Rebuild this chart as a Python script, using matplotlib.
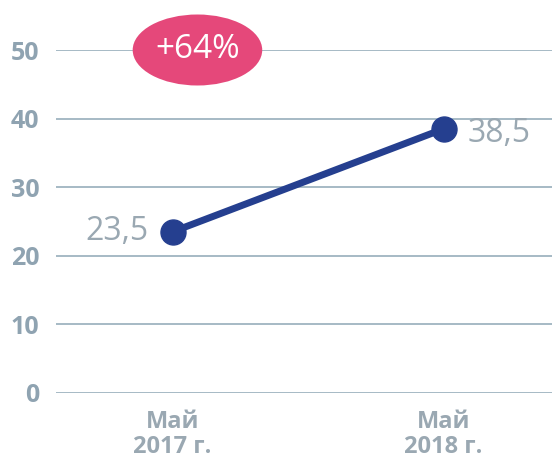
import matplotlib
matplotlib.use("Agg")
import matplotlib.pyplot as plt
from matplotlib.patches import Ellipse

# data
periods = ["Май\n2017 г.", "Май\n2018 г."]
values = [23.5, 38.5]
value_labels = ["23,5", "38,5"]
change_label = "+64%"
yticks = [0, 10, 20, 30, 40, 50]

plt.rcParams['font.family'] = ['Open Sans', 'DejaVu Sans']

fig = plt.figure(figsize=(5.52, 4.58), dpi=100)
ax = fig.add_axes([56 / 552, 1 - 393 / 458, 1 - 56 / 552, 343 / 458])

x = [0, 1]
ax.plot(x, values, color="#253F8F", linewidth=5, marker="o",
        markersize=18, solid_capstyle="round", zorder=3, clip_on=False)

ax.set_xlim(-0.43, 1.40)
ax.set_ylim(0, 50)

# grid lines
for t in yticks:
    ax.axhline(t, color="#9FB4C0", linewidth=1.3, zorder=1)

ax.set_yticks(yticks)
ax.set_yticklabels([str(t) for t in yticks], fontsize=18, fontweight="bold",
                   color="#8FA3B1")
ax.set_xticks(x)
ax.set_xticklabels(periods, fontsize=17, fontweight="bold", color="#9AA8B2",
                   linespacing=1.05)
ax.tick_params(axis="y", length=0, pad=12)
ax.tick_params(axis="x", length=0, pad=12)

for s in ax.spines.values():
    s.set_visible(False)

# value labels
ax.annotate(value_labels[0], (x[0], values[0]), xytext=(-17, 0),
            textcoords="offset points", ha="right", va="center",
            fontsize=23, color="#9AA8B2")
ax.annotate(value_labels[1], (x[1], values[1]), xytext=(17, -3),
            textcoords="offset points", ha="left", va="center",
            fontsize=23, color="#9AA8B2")

# percent badge
bx = (197 - 172) / 272
ell = Ellipse((bx, 50), width=130 / 272, height=71 * 50 / 343,
              facecolor="#E5487A", edgecolor="none", zorder=4, clip_on=False)
ax.add_patch(ell)
ax.text(bx, 50, change_label, ha="center", va="center", fontsize=24,
        color="white", zorder=5)

fig.savefig("out.png", dpi=100)
